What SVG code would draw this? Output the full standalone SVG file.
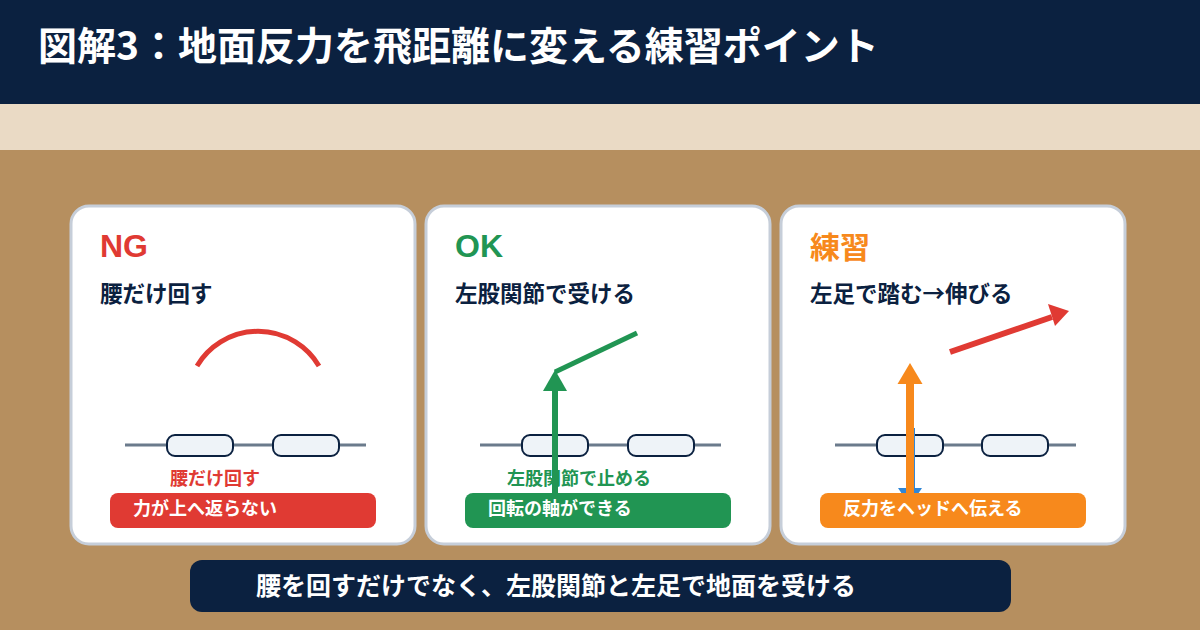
<svg xmlns="http://www.w3.org/2000/svg" width="1200" height="630" viewBox="0 0 1200 630">
<defs>
<style>
.jp{font-family:"Noto Sans CJK JP","Noto Sans",sans-serif;font-weight:700}
.lat{font-family:"Liberation Sans","Noto Sans",sans-serif;font-weight:700}
.card{fill:#ffffff;stroke:#c6ced9;stroke-width:3}
.rail{stroke:#6b7b8c;stroke-width:3;fill:none}
.seg{fill:#eef3f8;stroke:#0b2140;stroke-width:2}
.sub{fill:#0b2140;font-size:22.5px}
.note{font-size:18px}
.pilltxt{fill:#ffffff;font-size:18px}
</style>
</defs>
<rect x="0" y="0" width="1200" height="104" fill="#0b2140"/>
<rect x="0" y="104" width="1200" height="46" fill="#eadac5"/>
<rect x="0" y="150" width="1200" height="480" fill="#b68f5f"/>
<text class="jp" x="38" y="60" font-size="39" fill="#ffffff">図解3：地面反力を飛距離に変える練習ポイント</text>

<g id="card-ng">
<rect class="card" x="71" y="206" width="344" height="338" rx="18"/>
<text class="lat" x="100" y="257" font-size="32" fill="#e03a33">NG</text>
<text class="jp sub" x="100" y="302">腰だけ回す</text>
<path d="M197 366 A71 71 0 0 1 319 366" fill="none" stroke="#e03a33" stroke-width="5"/>
<line class="rail" x1="125" y1="445" x2="366" y2="445"/>
<rect class="seg" x="167" y="435" width="66" height="21" rx="8"/>
<rect class="seg" x="273" y="435" width="66" height="21" rx="8"/>
<text class="jp note" x="170" y="485" fill="#e03a33">腰だけ回す</text>
<rect x="110" y="493" width="266" height="35" rx="8" fill="#e03a33"/>
<text class="jp pilltxt" x="133" y="515">力が上へ返らない</text>
</g>

<g id="card-ok">
<rect class="card" x="426" y="206" width="344" height="338" rx="18"/>
<text class="lat" x="455" y="257" font-size="32" fill="#219553">OK</text>
<text class="jp sub" x="455" y="302">左股関節で受ける</text>
<line class="rail" x1="480" y1="445" x2="721" y2="445"/>
<rect class="seg" x="522" y="435" width="66" height="21" rx="8"/>
<rect class="seg" x="628" y="435" width="66" height="21" rx="8"/>
<text class="jp note" x="507" y="485" fill="#219553">左股関節で止める</text>
<rect x="465" y="493" width="266" height="35" rx="8" fill="#219553"/>
<text class="jp pilltxt" x="488" y="515">回転の軸ができる</text>
</g>

<g id="card-practice">
<rect class="card" x="781" y="206" width="344" height="338" rx="18"/>
<text class="jp" x="810" y="258" font-size="30" fill="#f7891c">練習</text>
<text class="jp sub" x="810" y="302">左足で踏む→伸びる</text>
<line class="rail" x1="835" y1="445" x2="1076" y2="445"/>
<rect class="seg" x="877" y="435" width="66" height="21" rx="8"/>
<rect class="seg" x="982" y="435" width="66" height="21" rx="8"/>
</g>

<g id="connectors">
<line x1="555" y1="372" x2="637" y2="333" stroke="#219553" stroke-width="5"/>
<line x1="555" y1="493" x2="555" y2="385" stroke="#219553" stroke-width="6"/>
<path d="M555 370 L567 391 L543 391 z" fill="#219553"/>
<line x1="950" y1="352" x2="1052" y2="317" stroke="#e03a33" stroke-width="6"/>
<path d="M1069 311 L1048 304 L1055 326 z" fill="#e03a33"/>
<line x1="912" y1="428" x2="912" y2="492" stroke="#2f86d6" stroke-width="6"/>
<path d="M898 488 L922 488 L910 506 z" fill="#2f86d6"/>
<line x1="910" y1="493" x2="910" y2="380" stroke="#f7891c" stroke-width="8"/>
<path d="M910 363 L922.5 384 L897.5 384 z" fill="#f7891c"/>
</g>

<g id="practice-pill">
<rect x="820" y="493" width="266" height="35" rx="8" fill="#f7891c"/>
<text class="jp pilltxt" x="843" y="515">反力をヘッドへ伝える</text>
</g>

<g id="summary">
<rect x="190" y="560" width="821" height="52" rx="12" fill="#0b2140"/>
<text class="jp" x="256" y="595" font-size="25" fill="#ffffff">腰を回すだけでなく、左股関節と左足で地面を受ける</text>
</g>
</svg>
